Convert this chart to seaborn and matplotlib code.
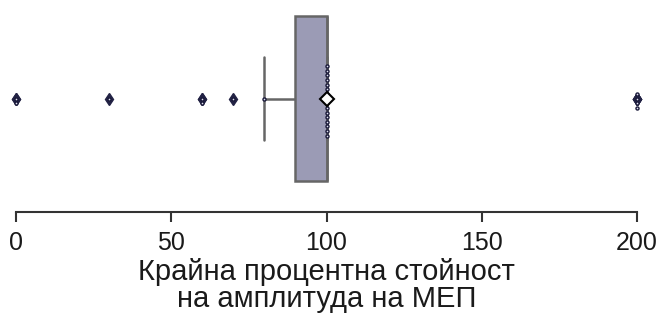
import numpy as np
import pandas as pd
import matplotlib
matplotlib.use("Agg")
import matplotlib.pyplot as plt
import seaborn as sns

# Final percentage value of MEP amplitude (one value per subject)
low_values = [0, 0, 30, 60, 60, 70, 80]
n_at_100 = 16
high_values = [200, 200, 200, 200]
values = low_values + [100] * n_at_100 + high_values

xticks = [0, 50, 100, 150, 200]
xlabel = "Крайна процентна стойност\nна амплитуда на МЕП"

sns.set_theme(style="white")
plt.rcParams['font.family'] = ['Liberation Sans', 'DejaVu Sans']

df = pd.DataFrame({"value": values})

fig = plt.figure(figsize=(6.61, 3.2), dpi=100)
ax = fig.add_axes([16/661, (320-201.5)/320, 621/661, 206/320])

sns.boxplot(data=df, x="value", ax=ax, color="#9b9bb5", saturation=1, width=0.8,
            linewidth=1.8, linecolor="#666666",
            showmeans=True,
            meanprops=dict(marker="D", markerfacecolor="white", markeredgecolor="black",
                           markersize=7.5, markeredgewidth=1.5, zorder=5),
            flierprops=dict(marker="d", markerfacecolor="#222244", markeredgecolor="#222244",
                            markersize=6))
sns.swarmplot(data=df, x="value", ax=ax, size=2.2, color="#e0e0f0",
              edgecolor="#1a1a3a", linewidth=1.0, zorder=4)

for art in ax.collections + ax.lines:
    art.set_clip_on(False)

ax.set_xlim(0, 200)
ax.set_ylim(0.5, -0.5)
ax.set_xticks(xticks)
ax.set_xticklabels([str(t) for t in xticks])
ax.set_xlabel(xlabel, fontsize=21, color="#1a1a1a", labelpad=2, linespacing=0.95)
ax.set_ylabel("")
ax.set_yticks([])
ax.tick_params(axis="x", which="both", bottom=True, length=7, width=1.5,
               color="#333333", labelsize=18, labelcolor="#1a1a1a", pad=7)
for s in ["top", "right", "left"]:
    ax.spines[s].set_visible(False)
ax.spines["bottom"].set_position(("outward", 7.5))
ax.spines["bottom"].set_linewidth(1.5)
ax.spines["bottom"].set_color("#333333")
ax.set_facecolor("none")

fig.savefig("out.png", dpi=100)
